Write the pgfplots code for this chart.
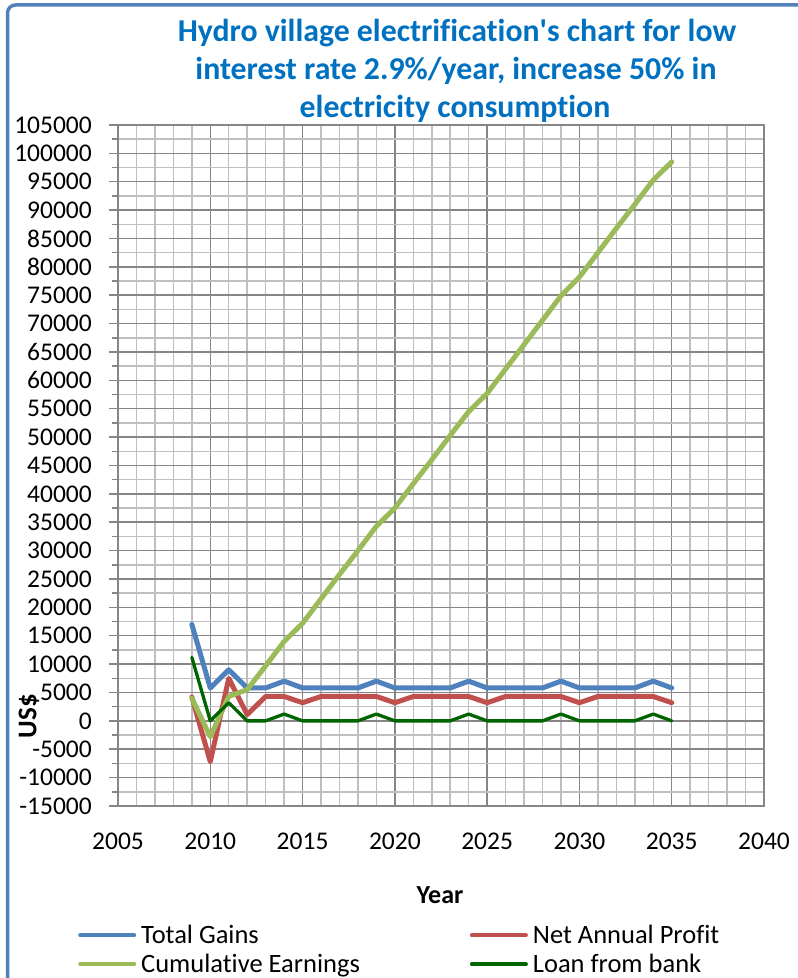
\documentclass[border=0pt]{standalone}
\usepackage{fontspec}
\setmainfont[Ligatures={CommonOff}]{Carlito}
\usepackage{pgfplots}
\pgfplotsset{compat=1.18}
\usepackage{pgfplotstable}

\definecolor{gainblue}{HTML}{4F81BD}
\definecolor{profitred}{HTML}{C0504D}
\definecolor{cumgreen}{HTML}{9BBB59}
\definecolor{loangreen}{HTML}{006400}
\definecolor{titleblue}{HTML}{0070C0}
\definecolor{gridmajor}{HTML}{868686}
\definecolor{gridminor}{HTML}{BFBFBF}
\definecolor{framecol}{HTML}{4F81BD}

% Yearly cash flow of the village hydro scheme (US$)
\pgfplotstableread{
year gains profit cumulative loan
2009 17000  4200  4000 11200
2010  5800 -7200 -2800     0
2011  9000  7500  4300  3200
2012  5800  1100  5500     0
2013  5800  4300  9700     0
2014  7000  4300 14000  1200
2015  5800  3200 17200     0
2016  5800  4300 21500     0
2017  5800  4300 25800     0
2018  5800  4300 30000     0
2019  7000  4300 34300  1200
2020  5800  3200 37500     0
2021  5800  4300 41800     0
2022  5800  4300 46000     0
2023  5800  4300 50300     0
2024  7000  4300 54500  1200
2025  5800  3200 57700     0
2026  5800  4300 62000     0
2027  5800  4300 66300     0
2028  5800  4300 70600     0
2029  7000  4300 74900  1200
2030  5800  3200 78200     0
2031  5800  4300 82500     0
2032  5800  4300 86800     0
2033  5800  4300 91000     0
2034  7000  4300 95300  1200
2035  5800  3200 98500     0
}\cashflow

\begin{document}
\begin{tikzpicture}
\useasboundingbox (0bp,0bp) rectangle (798bp,978bp);
% chart area frame
\draw[framecol, line width=3.5bp, rounded corners=8bp] (7.5bp,-10bp) -- (7.5bp,973bp) -- (810bp,973bp);
\begin{axis}[
  at={(118bp,172bp)}, anchor=south west,
  scale only axis, width=646bp, height=681bp,
  xmin=2005, xmax=2040, ymin=-15000, ymax=105000,
  xtick={2005,2010,...,2040},
  xticklabels={2005,2010,2015,2020,2025,2030,2035,2040},
  ytick={-15000,-10000,...,105000},
  yticklabels={-15000,-10000,-5000,0,5000,10000,15000,20000,25000,30000,35000,40000,45000,50000,55000,60000,65000,70000,75000,80000,85000,90000,95000,100000,105000},
  minor x tick num=4, minor y tick num=1,
  grid=both,
  major grid style={gridmajor, line width=1.5bp},
  minor grid style={gridminor, line width=1.5bp},
  axis line style={gridmajor, line width=1.5bp},
  tick align=outside, tick pos=left,
  major tick length=9bp, minor tick length=6bp,
  tick style={gridmajor, line width=1.5bp},
  xtick style={draw=none},
  scaled ticks=false,
  tick label style={font=\fontsize{25.5bp}{30bp}\selectfont},
  yticklabel style={anchor=east, inner sep=0pt, xshift=-17bp},
  xticklabel style={anchor=north, inner sep=0pt, yshift=-18bp},
  xlabel={Year}, ylabel={US\$},
  every axis x label/.style={at={(axis description cs:0.4985,-0.1307)}, anchor=center,
    font=\bfseries\fontsize{26bp}{30bp}\selectfont},
  every axis y label/.style={at={(axis description cs:-0.1378,0.132)}, rotate=90, anchor=center,
    font=\bfseries\fontsize{27bp}{30bp}\selectfont},
  legend columns=2,
  legend cell align=left,
  legend style={at={(axis description cs:-0.0619,-0.175)}, anchor=north west,
    draw=none, fill=none, inner sep=0pt, column sep=5bp, row sep=9bp,
    font=\fontsize{26.5bp}{30bp}\selectfont,
    nodes={inner sep=0pt},
    /tikz/every even column/.append style={column sep=110bp}},
  legend image code/.code={\draw[#1, line width=4bp] (0bp,0bp) -- (54bp,0bp);},
  every axis plot/.append style={line join=round, line cap=round},
]
\addplot[gainblue, line width=5bp] table[x=year, y=gains] {\cashflow};
\addlegendentry{Total Gains}
\addplot[profitred, line width=5bp] table[x=year, y=profit] {\cashflow};
\addlegendentry{Net Annual Profit}
\addplot[cumgreen, line width=5bp] table[x=year, y=cumulative] {\cashflow};
\addlegendentry{Cumulative Earnings}
\addplot[loangreen, line width=3.3bp] table[x=year, y=loan] {\cashflow};
\addlegendentry{Loan from bank}
\end{axis}
% chart title
\begin{scope}[every node/.style={anchor=base, text=titleblue, font=\bfseries\fontsize{31.8bp}{38bp}\selectfont}]
\node at (457bp,936bp) {Hydro village electrification\textquotesingle s chart for low};
\node at (456bp,898bp) {interest rate 2.9\%/year, increase 50\% in};
\node at (455bp,860bp) {electricity consumption};
\end{scope}
\end{tikzpicture}
\end{document}
